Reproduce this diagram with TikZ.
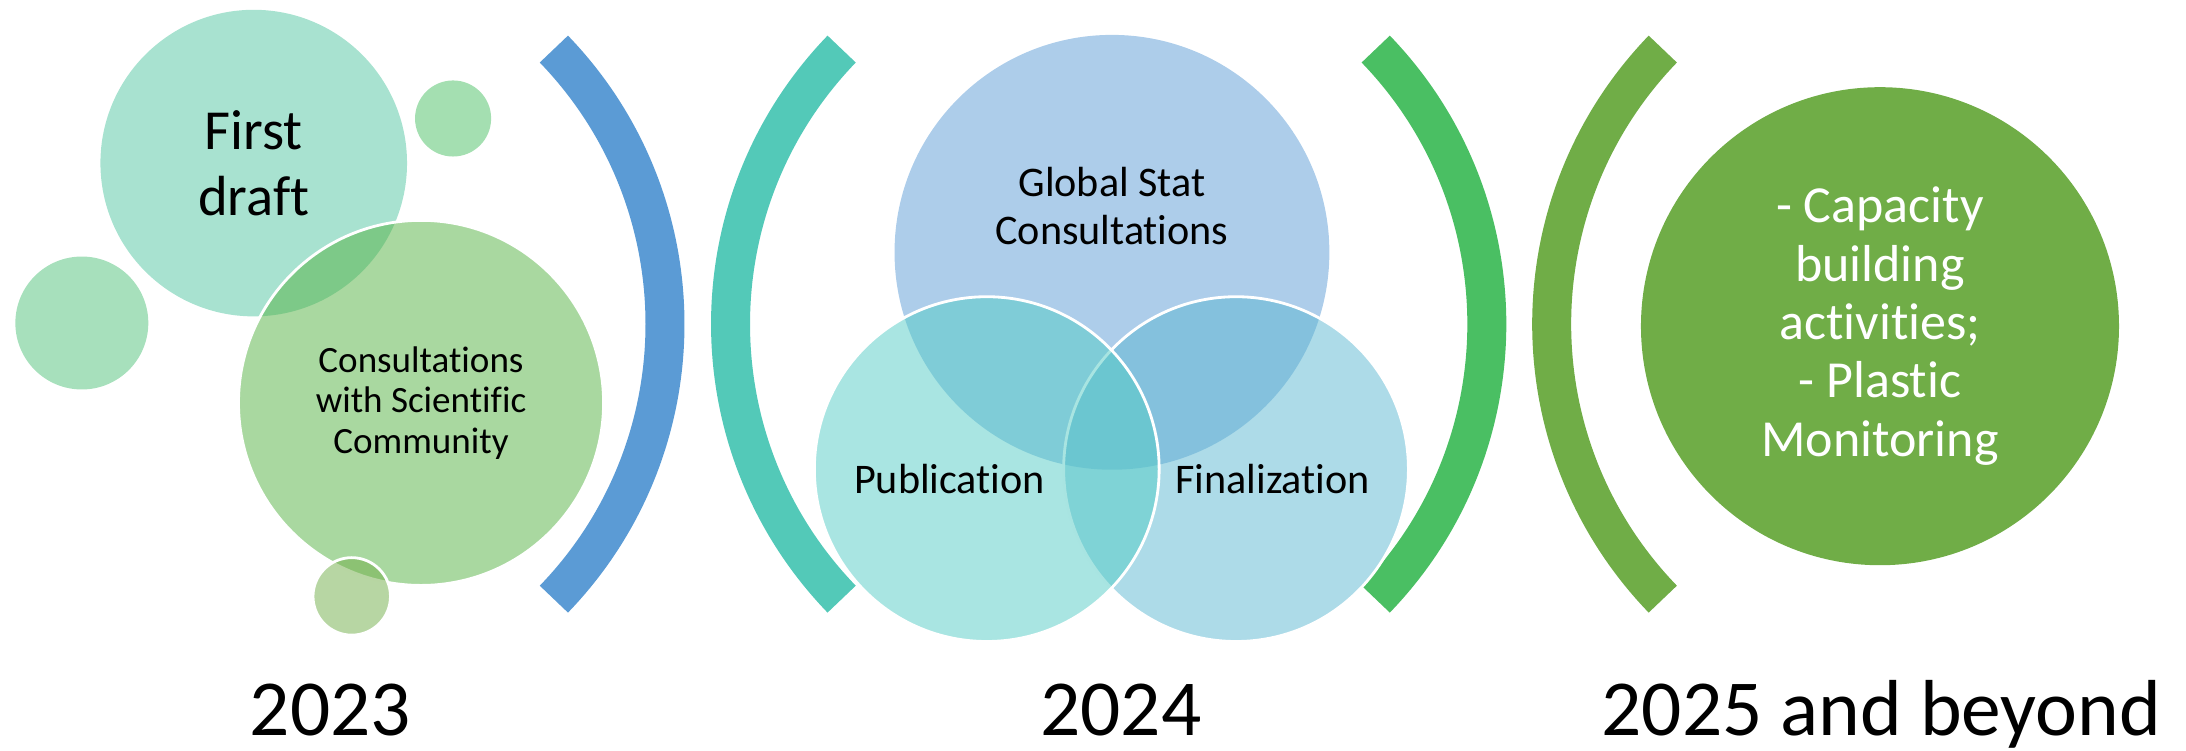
\documentclass[tikz,border=0pt]{standalone}
\usepackage{fontspec}
\setmainfont[Ligatures=NoCommon]{Carlito}
\usetikzlibrary{positioning}

\definecolor{cblue}{HTML}{5B9BD5}
\definecolor{cteal}{HTML}{53C9B8}
\definecolor{cgreen}{HTML}{4ABF63}
\definecolor{colive}{HTML}{70AD47}
\definecolor{cfirst}{HTML}{51C5A1}
\definecolor{cleft}{HTML}{4FC179}
\definecolor{cconsult}{HTML}{53B141}
\definecolor{cpub}{HTML}{53CBC5}
\definecolor{cfin}{HTML}{5BB7D1}

\begin{document}
\begin{tikzpicture}[x=0.013941cm, y=0.013941cm,
    bubble/.style={circle, inner sep=0pt, align=center, fill opacity=0.5, text opacity=1},
    rim/.style={draw=white, line width=0.8pt},
    bracket/.style={line width=0.39cm},
    venn/.style={align=center, font=\fontsize{12}{13.6}\selectfont},
    year/.style={anchor=base, font=\fontsize{22.6}{27}\selectfont}]
  \useasboundingbox (0,0) rectangle (1568,538);

  % brackets between the years
  \coordinate (k1) at (193,305.5);
  \coordinate (k2) at (808,305.5);
  \coordinate (k3) at (782.5,305.5);
  \coordinate (k4) at (1397,305.5);
  \draw[bracket, cblue] ([shift={(-44:284)}]k1) arc[start angle=-44, end angle=44, radius=284];
  \draw[bracket, cteal] ([shift={(136:284)}]k2) arc[start angle=136, end angle=224, radius=284];
  \draw[bracket, cgreen] ([shift={(-44:284)}]k3) arc[start angle=-44, end angle=44, radius=284];
  \draw[bracket, colive] ([shift={(136:284)}]k4) arc[start angle=136, end angle=224, radius=284];

  % 2023
  \node[bubble, fill=cfirst, minimum size=3.067cm, font=\fontsize{16.1}{18.6}\selectfont] (fd) at (182,421) {First\\draft};
  \node[bubble, fill=cgreen, minimum size=0.761cm] (s1) at (325,453) {};
  \node[bubble, fill=cleft, minimum size=1.330cm] (s2) at (58.7,306.3) {};
  \node[bubble, rim, fill=cconsult, minimum size=3.652cm, font=\fontsize{10.55}{11.5}\selectfont] (cs) at (302,249) {Consultations\\with Scientific\\Community};
  \node[bubble, rim, fill=colive, minimum size=0.775cm] (s3) at (252.3,110.2) {};

  % 2024
  \node[bubble, fill=cblue, minimum size=4.35cm] (gs) at (797.6,357) {};
  \node[bubble, rim, fill=cfin, minimum size=3.449cm] (fn) at (886.6,201.5) {};
  \node[bubble, rim, fill=cpub, minimum size=3.449cm] (pb) at (707.8,201.5) {};
  \node[venn] (gst) at (797.6,390) {Global Stat\\Consultations};
  \node[venn, anchor=base] (pbt) at (681.1,184) {Publication};
  \node[venn, anchor=base] (fnt) at (912.9,184) {Finalization};

  % 2025 and beyond
  \node[circle, inner sep=0pt, fill=colive, minimum size=4.782cm, text=white, align=center,
        font=\fontsize{14.8}{16.6}\selectfont] (mo) at (1348.5,304) {- Capacity\\building\\activities;\\- Plastic\\Monitoring};

  \node[year] (y1) at (237,10.7) {2023};
  \node[year] (y2) at (804,10.7) {2024};
  \node[year] (y3) at (1349.5,10.7) {2025 and beyond};
\end{tikzpicture}
\end{document}
